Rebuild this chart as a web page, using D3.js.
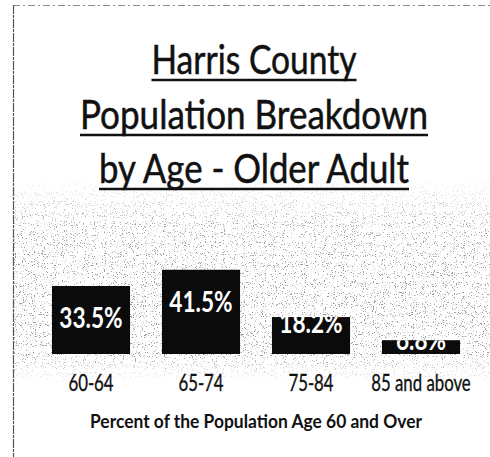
<!DOCTYPE html>
<html>
<head>
<meta charset="utf-8">
<script src="https://cdn.jsdelivr.net/npm/d3@7"></script>
<style>
  html, body { margin: 0; padding: 0; background: #fff; }
  svg { display: block; }
</style>
</head>
<body>
<svg id="chart" width="490" height="457"></svg>
<script>
// Older adult population of Harris County, by age group
const categories = ["60-64", "65-74", "75-84", "85 and above"];
const values = [33.5, 41.5, 18.2, 6.8];
const valueLabels = ["33.5%", "41.5%", "18.2%", "6.8%"];
const titleLines = ["Harris County", "Population Breakdown", "by Age - Older Adult"];
const axisTitle = "Percent of the Population Age 60 and Over";

const W = 490, H = 457;
const FONT = "Lato, 'Open Sans', sans-serif";
const svg = d3.select("#chart");
const defs = svg.append("defs");

// squeeze a text element horizontally to a narrower, Calibri-like width
function condense(sel, factor) {
  sel.each(function () {
    const len = this.getComputedTextLength();
    d3.select(this).attr("textLength", len * factor).attr("lengthAdjust", "spacingAndGlyphs");
  });
}

// speckled grain backdrop behind the bars
const grain = defs.append("filter").attr("id", "grain")
  .attr("filterUnits", "userSpaceOnUse")
  .attr("x", 13).attr("y", 170).attr("width", 477).attr("height", 225);
grain.append("feTurbulence").attr("type", "fractalNoise")
  .attr("baseFrequency", 0.9).attr("numOctaves", 2).attr("seed", 11).attr("result", "n");
grain.append("feColorMatrix").attr("type", "matrix")
  .attr("values", "0 0 0 0 0.3  0 0 0 0 0.3  0 0 0 0 0.3  1.6 0 0 0 -0.3");
grain.append("feComponentTransfer")
  .append("feFuncA").attr("type", "discrete")
  .attr("tableValues", "0 0 0 0 0 0 0 0.35 0.85 1");

const fade = defs.append("linearGradient").attr("id", "fade")
  .attr("x1", 0).attr("y1", 0).attr("x2", 0).attr("y2", 1);
[[0, 0], [0.08, 0.35], [0.22, 0.85], [0.38, 1], [0.86, 1], [0.94, 0.45], [1, 0]].forEach(([o, a]) =>
  fade.append("stop").attr("offset", o).attr("stop-color", "#fff").attr("stop-opacity", a));
const mask = defs.append("mask").attr("id", "fadeMask")
  .attr("maskUnits", "userSpaceOnUse").attr("x", 13).attr("y", 178).attr("width", 477).attr("height", 205);
mask.append("rect").attr("x", 13).attr("y", 178).attr("width", 477).attr("height", 205).attr("fill", "url(#fade)");

svg.append("g").attr("mask", "url(#fadeMask)")
  .append("rect").attr("x", 13).attr("y", 178).attr("width", 477).attr("height", 205)
  .attr("fill", "#000").attr("filter", "url(#grain)");

// page frame lines
svg.append("line").attr("x1", 13).attr("x2", W).attr("y1", 5.5).attr("y2", 5.5)
  .attr("stroke", "#8a8a8a").attr("stroke-width", 1).attr("stroke-dasharray", "7 3 2 3");
svg.append("line").attr("x1", 13.5).attr("x2", 13.5).attr("y1", 5).attr("y2", H)
  .attr("stroke", "#555").attr("stroke-width", 1.2).attr("stroke-dasharray", "9 1 3 1");

// title, underlined
const titleX = 254;
const titleBase = [74, 129, 183];
const titleWidth = [205, 348, 310];
titleLines.forEach((t, i) => {
  svg.append("text")
    .attr("x", titleX).attr("y", titleBase[i])
    .attr("text-anchor", "middle")
    .attr("font-family", FONT)
    .attr("font-size", 40)
    .attr("fill", "#111")
    .attr("stroke", "#111").attr("stroke-width", 0.5)
    .attr("textLength", titleWidth[i]).attr("lengthAdjust", "spacingAndGlyphs")
    .text(t);
  svg.append("line")
    .attr("x1", titleX - titleWidth[i] / 2).attr("x2", titleX + titleWidth[i] / 2)
    .attr("y1", titleBase[i] + 6).attr("y2", titleBase[i] + 6)
    .attr("stroke", "#111").attr("stroke-width", 2.6);
});

// scales
const x = d3.scaleBand().domain(categories).range([36, 476])
  .paddingInner(0.29).paddingOuter(0.145);
const y = d3.scaleLinear().domain([0, 45]).range([354, 354 - 45 * 2.03]);

// bars
const bars = svg.append("g").selectAll("g").data(categories).join("g");
bars.append("clipPath").attr("id", (d, i) => "bar" + i)
  .append("rect")
  .attr("x", d => x(d)).attr("width", x.bandwidth())
  .attr("y", (d, i) => y(values[i])).attr("height", (d, i) => y(0) - y(values[i]));
bars.append("rect")
  .attr("x", d => x(d)).attr("width", x.bandwidth())
  .attr("y", (d, i) => y(values[i])).attr("height", (d, i) => y(0) - y(values[i]))
  .attr("fill", "#0b0b0b");

// value labels sit near the top of each bar and are clipped to it
bars.append("text")
  .attr("clip-path", (d, i) => `url(#bar${i})`)
  .attr("x", d => x(d) + x.bandwidth() / 2)
  .attr("y", (d, i) => {
    const top = y(values[i]), h = y(0) - top;
    return h > 50 ? top + 42 : top + 6 + 0.28 * h;
  })
  .attr("text-anchor", "middle")
  .attr("font-family", FONT)
  .attr("font-weight", 700)
  .attr("font-size", 29)
  .attr("fill", "#fff")
  .text((d, i) => valueLabels[i])
  .call(condense, 0.78);

// category axis; labels are narrowed with a horizontal scale
const axis = svg.append("g").attr("transform", `translate(0,${y(0)})`)
  .call(d3.axisBottom(x).tickSize(0).tickPadding(21));
axis.select(".domain").remove();
axis.selectAll("text")
  .attr("font-family", FONT)
  .attr("font-size", 23)
  .attr("fill", "#111")
  .attr("stroke", "#111").attr("stroke-width", 0.35)
  .attr("transform", "scale(0.73,1)");

// axis title
svg.append("text")
  .attr("x", 256).attr("y", 428)
  .attr("text-anchor", "middle")
  .attr("font-family", FONT)
  .attr("font-weight", 700)
  .attr("font-size", 19)
  .attr("fill", "#111")
  .attr("textLength", 332).attr("lengthAdjust", "spacingAndGlyphs")
  .text(axisTitle);
</script>
</body>
</html>
